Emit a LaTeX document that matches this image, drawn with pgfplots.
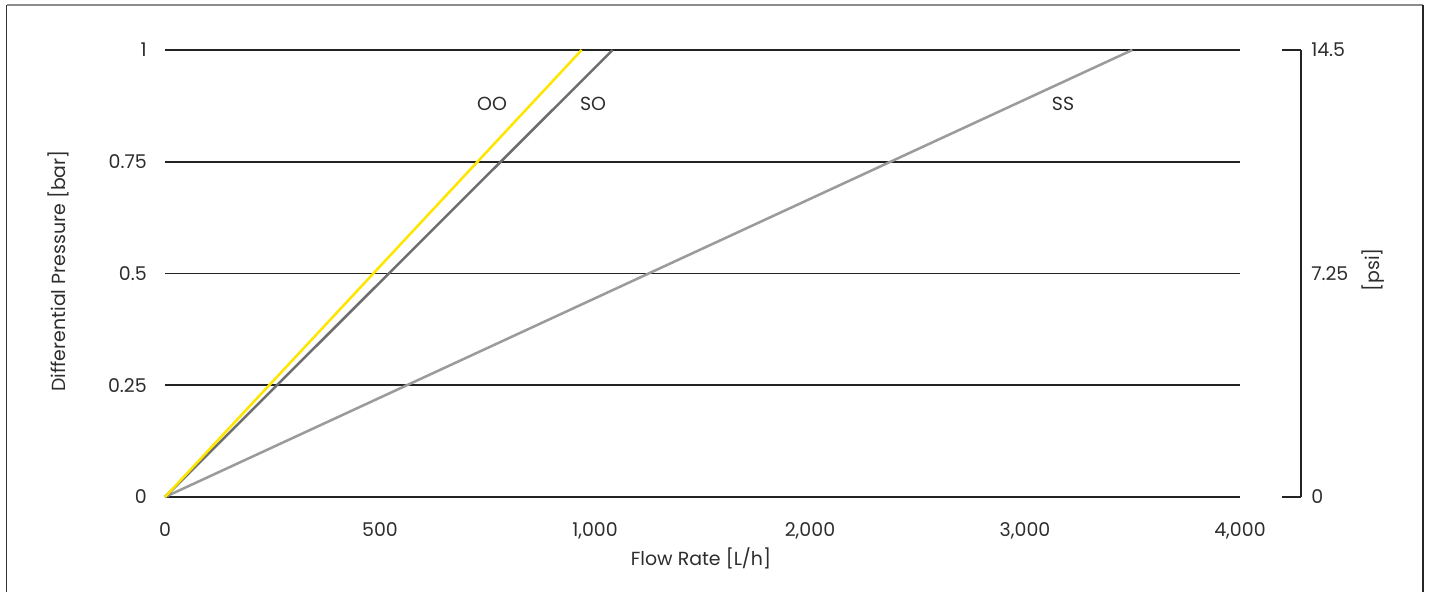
\documentclass[border=0pt]{standalone}
\usepackage{pgfplots}
\pgfplotsset{compat=1.18}
\usepackage{fontspec}
\setmainfont{Poppins}
\definecolor{ooc}{RGB}{255,230,0}
\definecolor{soc}{RGB}{110,110,110}
\definecolor{ssc}{RGB}{155,155,155}
\definecolor{txt}{RGB}{45,45,45}
\definecolor{gridc}{RGB}{35,35,35}
\newcommand{\lblfont}{\fontsize{14.2}{16}\selectfont}
\begin{document}
\begin{tikzpicture}[x=0.75pt,y=0.75pt]
\useasboundingbox (0,0) rectangle (1429,592);
\draw[line width=1.1pt, color=black!80] (6.5,0) -- (6.5,587);
\draw[line width=1.1pt, color=black!45] (6.5,587) -- (1423,587);
\draw[line width=1.1pt, color=black!85] (1423,587) -- (1423,0);
\begin{axis}[
  at={(123.75pt,71.25pt)}, anchor=south west,
  scale only axis, width=806.25pt, height=335.25pt,
  xmin=0, xmax=5, ymin=0, ymax=1,
  axis line style={draw=none},
  major tick length=0pt,
  xtick={0,1,2,3,4,5},
  xticklabels={0,500,{1,000},{2,000},{3,000},{4,000}},
  ytick={0,0.25,0.5,0.75,1},
  yticklabels={0,0.25,0.5,0.75,1},
  ymajorgrids,
  major grid style={line width=1.15pt, color=gridc},
  tick label style={font=\lblfont, text=txt},
  xticklabel style={anchor=base, yshift=-29.3pt},
  yticklabel style={anchor=east, inner sep=0pt, xshift=-13.5pt},
  clip=false,
]
\addplot[line width=1.9pt, color=ssc] coordinates {(0,0) (4.499,1)};
\addplot[line width=1.9pt, color=soc] coordinates {(0,0) (2.082,1)};
\addplot[line width=1.9pt, color=ooc] coordinates {(0,0) (1.938,1)};
\node[font=\lblfont, text=txt] at (axis cs:1.521,0.879) {OO};
\node[font=\lblfont, text=txt] at (axis cs:1.991,0.879) {SO};
\node[font=\lblfont, text=txt] at (axis cs:4.177,0.879) {SS};
\end{axis}
\begin{axis}[
  at={(961.5pt,71.25pt)}, anchor=south west,
  scale only axis, width=14.25pt, height=335.25pt,
  xmin=0, xmax=1, ymin=0, ymax=14.5,
  axis x line=none, axis y line=right,
  axis line style={-, line width=1.15pt, color=gridc},
  ytick={0,14.5}, yticklabels={0,14.5},
  extra y ticks={7.25}, extra y tick labels={7.25},
  extra y tick style={major tick length=0pt},
  tick align=inside, major tick length=14.25pt,
  tick style={line width=1.15pt, color=gridc},
  tick label style={font=\lblfont, text=txt},
  yticklabel style={anchor=west, inner sep=0pt, xshift=7.5pt},
]
\end{axis}
\node[rotate=90, font=\lblfont, text=txt] at (58,321) {Differential Pressure [bar]};
\node[font=\lblfont, text=txt] at (701,34) {Flow Rate [L/h]};
\node[rotate=90, font=\lblfont, text=txt] at (1373,322) {[psi]};
\end{tikzpicture}
\end{document}
